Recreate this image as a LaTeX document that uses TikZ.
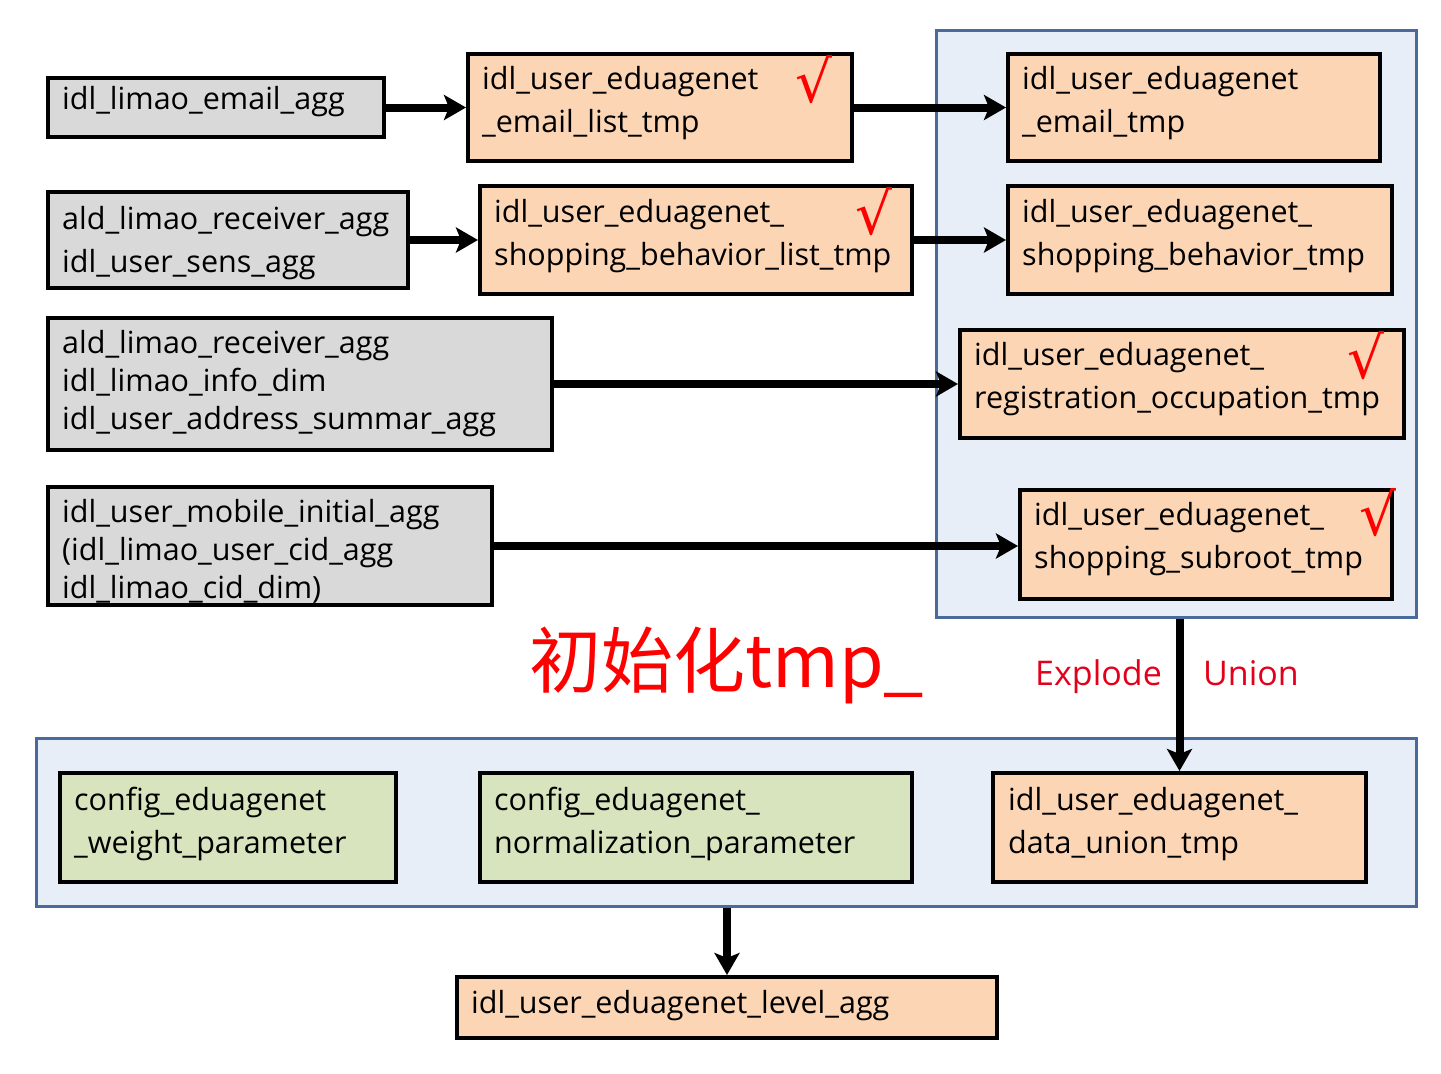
\documentclass[tikz,border=0pt]{standalone}
\usepackage{fontspec}
\setmainfont{Open Sans}
\newfontfamily\cjk{Noto Sans CJK SC}
\newfontfamily\symf{DejaVu Sans}
\usetikzlibrary{arrows.meta}
\definecolor{grayf}{HTML}{D9D9D9}
\definecolor{orangef}{HTML}{FCD5B5}
\definecolor{greenf}{HTML}{D7E4BD}
\definecolor{contf}{HTML}{E8EEF7}
\definecolor{contb}{HTML}{4A6A9B}
\definecolor{labred}{HTML}{E3001B}
\newcommand\mytwo[2]{\vtop{\hbox{#1}\hbox{#2}}}
\newcommand\mythree[3]{\vtop{\hbox{#1}\hbox{#2}\hbox{#3}}}
\tikzset{
  tbl/.style={draw=black, line width=4pt, inner sep=0pt},
  container/.style={draw=contb, fill=contf, line width=3pt, inner sep=0pt},
  txt/.style={anchor=base west, inner sep=0pt, font=\fontsize{30.5}{43}\selectfont},
  txtc/.style={anchor=base west, inner sep=0pt, font=\fontsize{30.5}{38}\selectfont},
  flow/.style={line width=8pt, -{Stealth[length=22pt,width=25pt,inset=5pt]}},
  chk/.style={anchor=base west, inner sep=0pt, text=red, font=\symf\fontsize{58}{58}\selectfont},
  lab/.style={anchor=base west, inner sep=0pt, text=labred, font=\fontsize{34}{34}\selectfont},
}
\begin{document}
\begin{tikzpicture}[x=1pt,y=-1pt]
\useasboundingbox (0,0) rectangle (1441,1074);
\fill[white] (0,0) rectangle (1441,1074);

% containers
\node[container, minimum width=480pt, minimum height=587pt] (topc) at (1176,323.5) {};
\node[container, minimum width=1380pt, minimum height=168pt] (botc) at (726,822) {};

% gray sources
\node[tbl, fill=grayf, minimum width=336pt, minimum height=59pt] (g1) at (216,107.5) {};
\node[tbl, fill=grayf, minimum width=360pt, minimum height=96pt] (g2) at (228,240) {};
\node[tbl, fill=grayf, minimum width=504pt, minimum height=132pt] (g3) at (300,384) {};
\node[tbl, fill=grayf, minimum width=444pt, minimum height=118pt] (g4) at (270,546) {};

% orange intermediate
\node[tbl, fill=orangef, minimum width=384pt, minimum height=107pt] (o1) at (660,107.5) {};
\node[tbl, fill=orangef, minimum width=432pt, minimum height=108pt] (o2) at (696,240) {};

% orange tmp tables in container
\node[tbl, fill=orangef, minimum width=372pt, minimum height=107pt] (r1) at (1194,107.5) {};
\node[tbl, fill=orangef, minimum width=384pt, minimum height=108pt] (r2) at (1200,240) {};
\node[tbl, fill=orangef, minimum width=444pt, minimum height=108pt] (r3) at (1182,384) {};
\node[tbl, fill=orangef, minimum width=372pt, minimum height=109pt] (r4) at (1206,544.5) {};

% bottom
\node[tbl, fill=greenf, minimum width=336pt, minimum height=109pt] (c1) at (228,827.5) {};
\node[tbl, fill=greenf, minimum width=432pt, minimum height=109pt] (c2) at (696,827.5) {};
\node[tbl, fill=orangef, minimum width=373pt, minimum height=109pt] (du) at (1179.5,827.5) {};
\node[tbl, fill=orangef, minimum width=540pt, minimum height=61pt] (lvl) at (727,1007.5) {};

% texts
\node[txt] (g1t) at (62,109) {idl\_limao\_email\_agg};
\node[txt] (g2t) at (62,229) {\mytwo{ald\_limao\_receiver\_agg}{idl\_user\_sens\_agg}};
\node[txtc] (g3t) at (62,353) {\mythree{ald\_limao\_receiver\_agg}{idl\_limao\_info\_dim}{idl\_user\_address\_summar\_agg}};
\node[txtc] (g4t) at (62,522) {\mythree{idl\_user\_mobile\_initial\_agg}{(idl\_limao\_user\_cid\_agg}{idl\_limao\_cid\_dim)}};

\node[txt] (o1t) at (482,89) {\mytwo{idl\_user\_eduagenet}{\_email\_list\_tmp}};
\node[txt] (o2t) at (494,222) {\mytwo{idl\_user\_eduagenet\_}{shopping\_behavior\_list\_tmp}};

\node[txt] (r1t) at (1022,89) {\mytwo{idl\_user\_eduagenet}{\_email\_tmp}};
\node[txt] (r2t) at (1022,222) {\mytwo{idl\_user\_eduagenet\_}{shopping\_behavior\_tmp}};
\node[txt] (r3t) at (974,365) {\mytwo{idl\_user\_eduagenet\_}{registration\_occupation\_tmp}};
\node[txt] (r4t) at (1034,525) {\mytwo{idl\_user\_eduagenet\_}{shopping\_subroot\_tmp}};

\node[txt] (c1t) at (74,810) {\mytwo{config\_eduagenet}{\_weight\_parameter}};
\node[txt] (c2t) at (494,810) {\mytwo{config\_eduagenet\_}{normalization\_parameter}};
\node[txt] (dut) at (1008,810) {\mytwo{idl\_user\_eduagenet\_}{data\_union\_tmp}};
\node[txt] (lvlt) at (471,1013) {idl\_user\_eduagenet\_level\_agg};

% check marks
\node[chk] (k1) at (795,102) {√};
\node[chk] (k2) at (855,234) {√};
\node[chk] (k3) at (1347,378) {√};
\node[chk] (k4) at (1359,535) {√};

% labels
\node[anchor=base west, inner sep=0pt, text=red, font=\cjk\fontsize{72}{72}\selectfont] (title) at (529,687) {初始化tmp\_};
\node[lab] (ex) at (1035,685) {Explode};
\node[lab] (un) at (1203,685) {Union};

% connectors
\draw[flow] (g1.east) -- (o1.west);
\draw[flow] (o1.east) -- (r1.west);
\draw[flow] (g2.east) -- (o2.west);
\draw[flow] (o2.east) -- (r2.west);
\draw[flow] (g3.east) -- (r3.west);
\draw[flow] (g4.east) -- (g4.east -| r4.west);
\draw[flow] (topc.south -| du.north) -- (du.north);
\draw[flow] (botc.south -| lvl.north) -- (lvl.north);
\end{tikzpicture}
\end{document}
